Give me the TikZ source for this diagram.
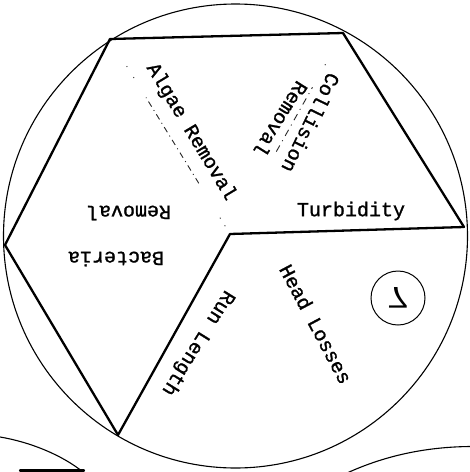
\documentclass[tikz,border=0pt]{standalone}
\usepackage{fontspec}
\setmonofont[FakeBold=1.2]{Liberation Mono}
\setsansfont{Liberation Sans}
\usetikzlibrary{calc}
\tikzset{
  edge/.style={line width=2.3pt, line join=round, line cap=round},
  thinline/.style={line width=1.1pt},
  faint/.style={line width=0.9pt, black!85},
  lbl/.style={font=\ttfamily\fontsize{20}{22}\selectfont, inner sep=0pt},
}
\begin{document}
\begin{tikzpicture}[x=1pt,y=-1pt]
\useasboundingbox (0,0) rectangle (470,472);
\clip (0,0) rectangle (470,472);
% wheel
\node[circle, draw, thinline, minimum size=464pt, inner sep=0pt] (wheel) at (235.5,236) {};
\coordinate (O) at (230,234);
\coordinate (TL) at (110,39);
\coordinate (TR) at (343,33);
\coordinate (R) at (464,227);
\coordinate (BL) at (118,435);
\coordinate (L) at (5,245);
\draw[edge] (R) -- (TR) -- (TL) -- (L) -- (BL);
\draw[edge] (R) -- (O) -- (BL);
% faint spokes
\draw[faint, dash pattern=on 1pt off 12pt] ($(O)!0.80!(TL)$) -- ($(O)!0.88!(TL)$);
\draw[faint, dash pattern=on 6pt off 4pt on 1pt off 4pt] ($(O)!0.26!(TL)$) -- ($(O)!0.70!(TL)$);
\draw[faint, dash pattern=on 1pt off 8pt] ($(O)!0.04!(TL)$) -- ($(O)!0.09!(TL)$);
\draw[faint, dash pattern=on 7pt off 5pt on 1pt off 5pt] ($(O)!0.41!(TR)$) -- ($(O)!0.73!(TR)$);
\draw[faint, dash pattern=on 1pt off 10pt] ($(O)!0.84!(TR)$) -- ($(O)!0.86!(TR)$);
% labels
\node[lbl, rotate=-59] (algae) at (191,132) {Algae Removal};
\node[lbl, rotate=-116] (coll) at (311,123) {Collision};
\node[lbl, rotate=-122] (collrem) at (281,119) {Removal};
\node[lbl] (turb) at (351,211) {Turbidity};
\node[lbl, rotate=180] (bact) at (116,259) {Bacteria};
\node[lbl, rotate=180] (bactrem) at (129,213) {Removal};
\node[lbl, rotate=-62] (head) at (316,324) {Head Losses};
\node[lbl, rotate=-122] (run) at (198,343) {Run Length};
% number
\node[circle, draw, line width=1pt, minimum size=54pt, inner sep=0pt] (seven) at (398,298) {};
\node[yscale=-1, xscale=1.3, font=\sffamily\fontsize{30}{30}\selectfont, inner sep=0pt] (num) at (seven) {7};
% neighbouring wheels
\coordinate (la) at (0,437);
\coordinate (lb) at (83,472);
\draw[thinline] (la) .. controls (30,442) and (62,455) .. (lb);
\coordinate (lc) at (20,470.5);
\coordinate (ld) at (84,470.5);
\draw[edge] (lc) -- (ld);
\coordinate (ra) at (347,473);
\coordinate (rb) at (470,446.5);
\draw[thinline] (ra) .. controls (380,458) and (420,447) .. (rb);
\end{tikzpicture}
\end{document}
